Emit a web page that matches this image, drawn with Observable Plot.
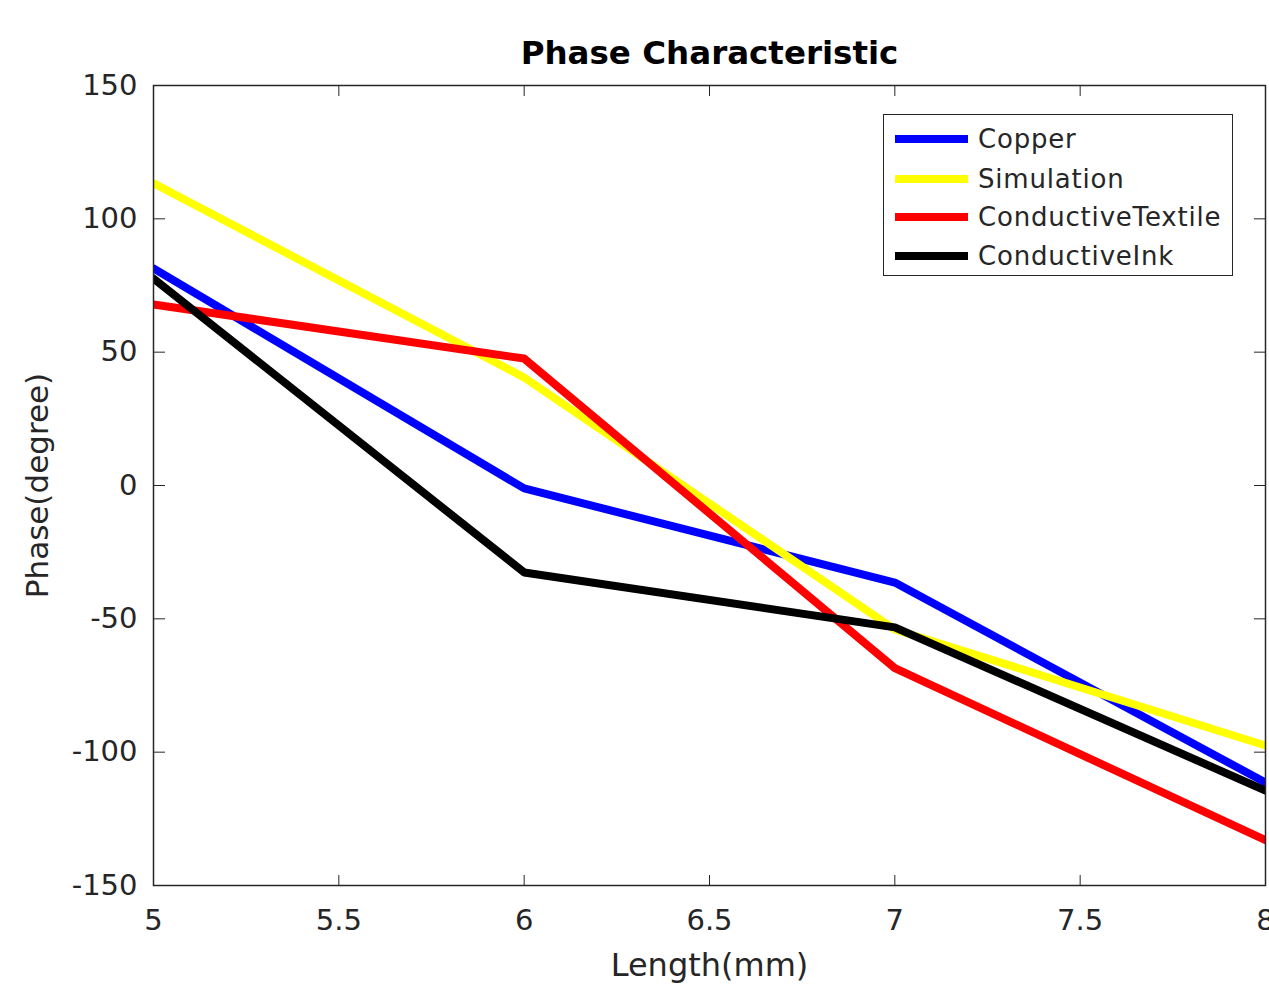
<!DOCTYPE html>
<html><head><meta charset="utf-8">
<script src="https://cdn.jsdelivr.net/npm/d3@7"></script>
<script src="https://cdn.jsdelivr.net/npm/@observablehq/plot@0.6"></script>
<style>
body{margin:0;background:#fff;}
#wrap{position:relative;width:1269px;height:984px;overflow:hidden;}
#legend{position:absolute;left:883px;top:114px;width:350px;height:162px;box-sizing:border-box;border:1.5px solid #262626;background:#fff;font-family:"DejaVu Sans",sans-serif;font-size:26px;letter-spacing:0.8px;color:#262626;}
.row{position:absolute;left:11px;height:30px;display:flex;align-items:center;white-space:nowrap;}
.sw{width:73px;height:8px;margin-right:10px;}
</style></head><body><div id="wrap"></div>
<script>
const lengths = [5, 6, 7, 8];
const series = ["Copper", "Simulation", "ConductiveTextile", "ConductiveInk"];
const copper = [81.4, -1.1, -36.4, -111.4];
const simulation = [113.3, 40.5, -54, -97.5];
const textile = [67.9, 47.6, -68.5, -133];
const ink = [77.6, -32.6, -53.2, -114.4];
const colors = ["#0000ff", "#ffff00", "#ff0000", "#000000"];
const yTicks = [-150, -100, -50, 0, 50, 100, 150];
const xTicks = [5, 5.5, 6, 6.5, 7, 7.5, 8];
const titleText = "Phase Characteristic";
const xLabel = "Length(mm)";
const yLabel = "Phase(degree)";

const valueSets = [copper, simulation, textile, ink];
const rows = [];
series.forEach((s, i) => lengths.forEach((x, j) => rows.push({series: s, x, y: valueSets[i][j]})));

const fmt = d => String(d);
const plot = Plot.plot({
  width: 1269,
  height: 984,
  marginLeft: 153,
  marginRight: 4,
  marginTop: 85,
  marginBottom: 99,
  style: {fontFamily: "DejaVu Sans, sans-serif", color: "#262626", background: "#fff", overflow: "hidden"},
  x: {domain: [5, 8]},
  y: {domain: [-150, 150]},
  color: {domain: series, range: colors},
  marks: [
    Plot.line(rows, {x: "x", y: "y", z: "series", stroke: "series", strokeWidth: 8, strokeLinejoin: "round", clip: true}),
    Plot.frame({stroke: "#262626", strokeWidth: 1.5}),
    Plot.axisY({ticks: yTicks, tickSize: 0, tickPadding: 16, fontSize: 29, label: null, tickFormat: fmt}),
    Plot.axisX({ticks: xTicks, tickSize: 0, tickPadding: 24, fontSize: 29, label: null, tickFormat: fmt}),
    Plot.axisY({anchor: "right", frameAnchor: "left", ticks: yTicks, tickSize: 11, tickFormat: () => "", label: null, stroke: "#262626"}),
    Plot.axisY({anchor: "left", frameAnchor: "right", ticks: yTicks, tickSize: 11, tickFormat: () => "", label: null, stroke: "#262626"}),
    Plot.axisX({anchor: "top", frameAnchor: "bottom", ticks: xTicks, tickSize: 11, tickFormat: () => "", label: null, stroke: "#262626"}),
    Plot.axisX({anchor: "bottom", frameAnchor: "top", ticks: xTicks, tickSize: 11, tickFormat: () => "", label: null, stroke: "#262626"}),
    Plot.text([titleText], {text: d => d, frameAnchor: "top", lineAnchor: "middle", dy: -32, fontSize: 32.5, fontWeight: "bold", fill: "#000"}),
    Plot.text([xLabel], {text: d => d, frameAnchor: "bottom", lineAnchor: "middle", dy: 80, fontSize: 32}),
    Plot.text([yLabel], {text: d => d, frameAnchor: "left", textAnchor: "middle", lineAnchor: "middle", dx: -115, rotate: -90, fontSize: 31})
  ]
});
const wrap = document.getElementById("wrap");
wrap.appendChild(plot);

const legend = document.createElement("div");
legend.id = "legend";
const centers = [24, 64, 102, 141];
series.forEach((s, i) => {
  const r = document.createElement("div");
  r.className = "row";
  r.style.top = (centers[i] - 15) + "px";
  const sw = document.createElement("div");
  sw.className = "sw";
  sw.style.background = colors[i];
  const t = document.createElement("span");
  t.textContent = s;
  r.appendChild(sw); r.appendChild(t);
  legend.appendChild(r);
});
wrap.appendChild(legend);
</script></body></html>
